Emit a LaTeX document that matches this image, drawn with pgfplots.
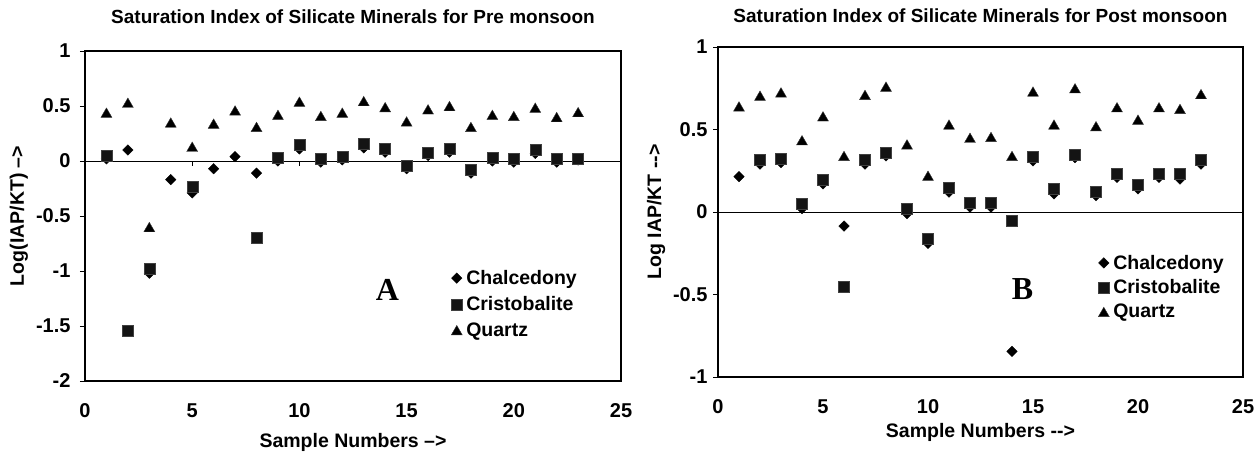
\documentclass[border=0pt]{standalone}
\usepackage{fontspec}
\setmainfont{Liberation Sans}
\newfontfamily\tnr{Liberation Serif}
\usepackage{pgfplots}
\pgfplotsset{compat=1.18}
\newcommand{\fs}[1]{\fontsize{#1}{#1}\selectfont}

\pgfplotsset{
  siaxis/.style={
    scale only axis, xmin=0, xmax=25, xtick={0,5,...,25},
    axis line style={line width=2bp, black},
    /pgf/number format/assume math mode=true,
    ticklabel style={font=\bfseries\fs{20bp}},
    label style={font=\bfseries\fs{19.5bp}},
    title style={font=\bfseries\fs{19bp}},
    xtick style={draw=none},
    ytick style={black, line width=0.8bp},
    major tick length=5bp, tick align=outside, ytick pos=left,
    xticklabel style={yshift=-14bp},
    clip=false,
    legend cell align=left,
    legend image code/.code={\draw[#1] plot coordinates {(0bp,0bp)};},
    legend style={draw=none, fill=none, font=\bfseries\fs{19.5bp},
      inner sep=0bp,
      nodes={inner xsep=4bp, inner ysep=2bp}},
  },
  chal/.style={only marks, mark=square*, mark size=3.7bp, mark options={rotate=45, fill=black, draw=black}},
  cris/.style={only marks, mark=square*, mark size=5.5bp, mark options={fill=black!92, draw=black!75}},
  quar/.style={only marks, mark=triangle*, mark size=6.3bp, mark options={fill=black, draw=black!80, yshift=-1.6bp}},
}

\pgfplotstableread{
x y
1 0.02
2 0.10
3 -1.02
4 -0.17
5 -0.29
6 -0.07
7 0.04
8 -0.11
9 0.00
10 0.11
11 -0.01
12 0.01
13 0.12
14 0.08
15 -0.07
16 0.05
17 0.08
18 -0.11
19 0.00
20 -0.01
21 0.07
22 -0.01
23 0.01
}\preChal
\pgfplotstableread{
x y
1 0.05
2 -1.54
3 -0.98
5 -0.23
8 -0.70
9 0.03
10 0.145
11 0.02
12 0.035
13 0.155
14 0.11
15 -0.04
16 0.08
17 0.11
18 -0.08
19 0.03
20 0.02
21 0.10
22 0.02
23 0.02
}\preCris
\pgfplotstableread{
x y
1 0.44
2 0.53
3 -0.60
4 0.35
5 0.13
6 0.34
7 0.46
8 0.31
9 0.42
10 0.54
11 0.41
12 0.44
13 0.545
14 0.49
15 0.36
16 0.47
17 0.50
18 0.31
19 0.42
20 0.41
21 0.485
22 0.40
23 0.445
}\preQuar
\pgfplotstableread{
x y
1 0.215
2 0.29
3 0.30
4 0.02
5 0.17
6 -0.085
7 0.29
8 0.34
9 -0.01
10 -0.19
11 0.12
12 0.03
13 0.03
14 -0.845
15 0.31
16 0.11
17 0.33
18 0.10
19 0.21
20 0.14
21 0.21
22 0.20
23 0.29
}\postChal
\pgfplotstableread{
x y
2 0.315
3 0.325
4 0.05
5 0.195
6 -0.45
7 0.315
8 0.36
9 0.02
10 -0.16
11 0.145
12 0.056
13 0.056
14 -0.05
15 0.335
16 0.14
17 0.35
18 0.125
19 0.235
20 0.165
21 0.235
22 0.23
23 0.315
}\postCris
\pgfplotstableread{
x y
1 0.64
2 0.705
3 0.725
4 0.435
5 0.58
6 0.34
7 0.71
8 0.76
9 0.41
10 0.22
11 0.53
12 0.45
13 0.455
14 0.34
15 0.73
16 0.53
17 0.75
18 0.52
19 0.635
20 0.56
21 0.635
22 0.625
23 0.715
}\postQuar

\begin{document}
\begin{tikzpicture}
\useasboundingbox (0,0) rectangle (1255bp,455bp);
% ---------------- Panel A ----------------
\begin{axis}[siaxis,
  at={(85bp,74bp)}, anchor=south west, width=536bp, height=330bp,
  ymin=-2, ymax=1, ytick={-2,-1.5,...,1},
  yticklabel style={xshift=-6bp},
  title={Saturation Index of Silicate Minerals for Pre monsoon},
  title style={at={(axis description cs:0.5,1)}, anchor=base, yshift=22bp},
  xlabel={Sample Numbers --{}>},
  xlabel style={at={(axis description cs:0.5,0)}, anchor=base, yshift=-66bp},
  ylabel={Log(IAP/KT) --{}>},
  ylabel style={at={([xshift=-66bp]axis description cs:0,0.5)}, anchor=center},
  legend style={at={(axis description cs:0.683,0.342)}, anchor=north west, row sep=6.5bp},
]
\addplot[black, line width=0.8bp, forget plot] coordinates {(0,0) (25,0)};
\pgfplotsinvokeforeach{5,10,15,20}{\draw[black, line width=0.8bp] (axis cs:#1,0) -- ++(0bp,-5bp);}
\addplot[chal] table {\preChal};
\addplot[cris] table {\preCris};
\addplot[quar] table {\preQuar};
\legend{Chalcedony, Cristobalite, Quartz}
\node[font=\tnr\bfseries\fs{32bp}] at (axis cs:14.1,-1.17) {A};
\end{axis}
% ---------------- Panel B ----------------
\begin{axis}[siaxis,
  at={(718bp,78bp)}, anchor=south west, width=525bp, height=330bp,
  ymin=-1, ymax=1, ytick={-1,-0.5,...,1},
  yticklabel style={xshift=-2bp},
  title={Saturation Index of Silicate Minerals for Post monsoon},
  title style={at={(axis description cs:0.5,1)}, anchor=base, yshift=18.5bp},
  xlabel={Sample Numbers -\kern0pt-\kern0pt>},
  xlabel style={at={(axis description cs:0.5,0)}, anchor=base, yshift=-60bp},
  ylabel={Log IAP/KT -\kern0pt-\kern0pt>},
  ylabel style={at={([xshift=-62bp]axis description cs:0,0.5)}, anchor=center},
  legend style={at={(axis description cs:0.724,0.376)}, anchor=north west, row sep=5bp},
]
\addplot[black, line width=0.8bp, forget plot] coordinates {(0,0) (25,0)};
\addplot[chal] table {\postChal};
\addplot[cris] table {\postCris};
\addplot[quar] table {\postQuar};
\legend{Chalcedony, Cristobalite, Quartz}
\node[font=\tnr\bfseries\fs{32bp}] at (axis cs:14.5,-0.47) {B};
\end{axis}
\end{tikzpicture}
\end{document}
